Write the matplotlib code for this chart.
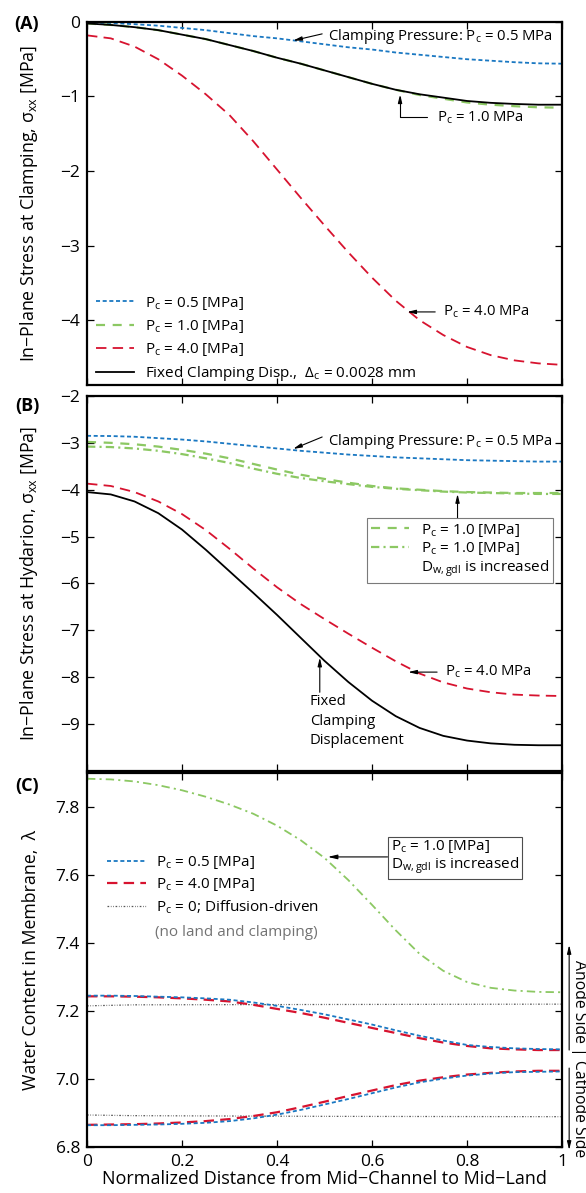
import matplotlib
matplotlib.use("Agg")
import matplotlib.pyplot as plt
from matplotlib.lines import Line2D

plt.rcParams['font.family'] = ['Open Sans', 'DejaVu Sans']
plt.rcParams['mathtext.fontset'] = 'custom'
plt.rcParams['mathtext.rm'] = 'Open Sans'
plt.rcParams['mathtext.it'] = 'Open Sans:italic'
plt.rcParams['lines.scale_dashes'] = False
plt.rcParams['axes.unicode_minus'] = True

# normalized distance from mid-channel to mid-land
x = [0.0, 0.05, 0.1, 0.15, 0.2, 0.25, 0.3, 0.35, 0.4, 0.45, 0.5,
     0.55, 0.6, 0.65, 0.7, 0.75, 0.8, 0.85, 0.9, 0.95, 1.0]

# (A) in-plane stress at clamping [MPa]
a_p05 = [-0.01, -0.015, -0.03, -0.05, -0.08, -0.11, -0.15, -0.19, -0.22, -0.26, -0.30,
         -0.34, -0.37, -0.41, -0.44, -0.47, -0.50, -0.52, -0.54, -0.555, -0.56]
a_p10 = [-0.02, -0.04, -0.07, -0.11, -0.17, -0.23, -0.31, -0.39, -0.48, -0.56, -0.65,
         -0.74, -0.83, -0.91, -0.98, -1.03, -1.08, -1.11, -1.13, -1.145, -1.15]
a_p40 = [-0.18, -0.22, -0.33, -0.50, -0.72, -0.97, -1.25, -1.60, -1.98, -2.36, -2.73,
         -3.09, -3.43, -3.74, -4.00, -4.20, -4.36, -4.47, -4.54, -4.58, -4.60]
a_fix = [-0.02, -0.04, -0.07, -0.11, -0.17, -0.23, -0.31, -0.39, -0.48, -0.56, -0.65,
         -0.74, -0.83, -0.91, -0.97, -1.015, -1.06, -1.085, -1.10, -1.11, -1.11]

# (B) in-plane stress at hydration [MPa]
b_p05 = [-2.85, -2.855, -2.87, -2.90, -2.93, -2.97, -3.02, -3.07, -3.12, -3.17, -3.21,
         -3.25, -3.28, -3.31, -3.33, -3.35, -3.37, -3.38, -3.39, -3.40, -3.40]
b_p10 = [-2.98, -3.00, -3.03, -3.08, -3.15, -3.23, -3.33, -3.45, -3.57, -3.68, -3.77,
         -3.85, -3.92, -3.97, -4.00, -4.03, -4.05, -4.06, -4.07, -4.07, -4.07]
b_p10d = [-3.08, -3.09, -3.12, -3.17, -3.24, -3.33, -3.43, -3.55, -3.66, -3.75, -3.82,
          -3.88, -3.94, -3.98, -4.01, -4.04, -4.06, -4.07, -4.08, -4.09, -4.09]
b_p40 = [-3.87, -3.92, -4.05, -4.25, -4.52, -4.86, -5.26, -5.68, -6.08, -6.44, -6.76,
         -7.07, -7.37, -7.66, -7.92, -8.11, -8.24, -8.32, -8.37, -8.39, -8.40]
b_fix = [-4.05, -4.10, -4.25, -4.50, -4.85, -5.28, -5.74, -6.20, -6.67, -7.16, -7.65,
         -8.10, -8.50, -8.83, -9.08, -9.25, -9.35, -9.41, -9.44, -9.45, -9.45]

# (C) water content in membrane
c_p10d = [7.883, 7.881, 7.875, 7.864, 7.849, 7.83, 7.807, 7.78, 7.745, 7.702, 7.65,
          7.585, 7.512, 7.437, 7.368, 7.318, 7.285, 7.268, 7.26, 7.256, 7.255]
c_p05_an = [7.245, 7.245, 7.244, 7.242, 7.240, 7.237, 7.233, 7.225, 7.215, 7.203, 7.19,
            7.175, 7.16, 7.143, 7.127, 7.113, 7.10, 7.094, 7.09, 7.088, 7.087]
c_p40_an = [7.243, 7.243, 7.242, 7.240, 7.237, 7.233, 7.228, 7.218, 7.206, 7.194, 7.18,
            7.165, 7.15, 7.135, 7.12, 7.107, 7.097, 7.09, 7.087, 7.085, 7.085]
c_p05_ca = [6.864, 6.864, 6.865, 6.866, 6.868, 6.871, 6.876, 6.884, 6.895, 6.909, 6.925,
            6.941, 6.958, 6.975, 6.99, 7.001, 7.01, 7.016, 7.02, 7.021, 7.022]
c_p40_ca = [6.865, 6.866, 6.867, 6.869, 6.872, 6.876, 6.882, 6.891, 6.902, 6.917, 6.933,
            6.95, 6.966, 6.982, 6.995, 7.005, 7.013, 7.018, 7.022, 7.024, 7.024]
x_diff = [0.0, 0.1, 0.5, 1.0]
c_p0_an = [7.215, 7.218, 7.219, 7.22]
c_p0_ca = [6.894, 6.892, 6.890, 6.889]

BLUE = '#1a78c2'
GREEN = '#8cc863'
RED = '#d7132f'
GRAY = '#555555'
D_BLUE = (2.9, 1.9)
D_GREEN = (6.5, 5.5)
D_RED = (7.5, 4.5)
D_DASHDOT = (6, 3, 1.5, 3)
D_DIFF = (1.2, 1.2, 0.5, 1.2, 0.5, 1.2)

PC = r'P$_\mathregular{c}$'
DW = r'D$_\mathregular{w,gdl}$'

fig = plt.figure(figsize=(5.86, 11.93), dpi=100)
axA = fig.add_axes([0.1485, 0.6773, 0.8106, 0.3043])
axB = fig.add_axes([0.1485, 0.3537, 0.8106, 0.3144])
axC = fig.add_axes([0.1485, 0.0386, 0.8106, 0.3135])

for ax in (axA, axB, axC):
    ax.set_xlim(0, 1)
    ax.set_xticks([0, 0.2, 0.4, 0.6, 0.8, 1.0])
    ax.tick_params(direction='in', top=True, right=True, length=5, width=0.9,
                   labelsize=12.5, pad=5)
    for s in ax.spines.values():
        s.set_linewidth(1.6)
    ax.yaxis.set_label_coords(-0.10, 0.5)
axA.tick_params(labelbottom=False)
axB.tick_params(labelbottom=False)

ARW = dict(arrowstyle='-|>,head_length=0.5,head_width=0.12', color='k', lw=0.8,
           shrinkA=0, shrinkB=0)
FS = 10.7
LFS = 11
YFS = 12.8

# ---- (A)
axA.plot(x, a_p05, color=BLUE, lw=1.3, dashes=D_BLUE, label=PC + ' = 0.5 [MPa]')
axA.plot(x, a_p10, color=GREEN, lw=1.6, dashes=D_GREEN, label=PC + ' = 1.0 [MPa]')
axA.plot(x, a_p40, color=RED, lw=1.3, dashes=D_RED, label=PC + ' = 4.0 [MPa]')
axA.plot(x, a_fix, color='k', lw=1.3,
         label='Fixed Clamping Disp.,  Δ$_\\mathregular{c}$ = 0.0028 mm')
axA.set_ylim(-4.87, 0)
axA.set_yticks([0, -1, -2, -3, -4])
axA.set_ylabel('In−Plane Stress at Clamping, σ$_\\mathregular{xx}$ [MPa]', fontsize=YFS)
axA.legend(loc='lower left', bbox_to_anchor=(0.0, -0.02), frameon=False, fontsize=LFS,
           handlelength=2.5, handletextpad=0.7, labelspacing=0.4, borderaxespad=0.2)
axA.text(0.507, -0.20, 'Clamping Pressure: ' + PC + ' = 0.5 MPa', fontsize=FS, va='center')
axA.annotate('', xy=(0.434, -0.25), xytext=(0.495, -0.16), arrowprops=ARW)
axA.text(0.737, -1.29, PC + ' = 1.0 MPa', fontsize=FS, va='center')
axA.annotate('', xy=(0.659, -0.97), xytext=(0.716, -1.275),
             arrowprops=dict(ARW, connectionstyle='angle,angleA=0,angleB=90,rad=0'))
axA.text(0.749, -3.89, PC + ' = 4.0 MPa', fontsize=FS, va='center')
axA.annotate('', xy=(0.674, -3.89), xytext=(0.733, -3.89), arrowprops=ARW)

# ---- (B)
axB.plot(x, b_p05, color=BLUE, lw=1.3, dashes=D_BLUE)
lg1, = axB.plot(x, b_p10, color=GREEN, lw=1.6, dashes=D_GREEN)
lg2, = axB.plot(x, b_p10d, color=GREEN, lw=1.6, dashes=D_DASHDOT)
axB.plot(x, b_p40, color=RED, lw=1.3, dashes=D_RED)
axB.plot(x, b_fix, color='k', lw=1.3)
axB.set_ylim(-10, -2)
axB.set_yticks([-9, -8, -7, -6, -5, -4, -3, -2])
axB.set_ylabel('In−Plane Stress at Hydarion, σ$_\\mathregular{xx}$ [MPa]', fontsize=YFS)
blank = Line2D([], [], color='none')
legB = axB.legend([lg1, lg2, blank], [PC + ' = 1.0 [MPa]', PC + ' = 1.0 [MPa]',
                                      DW + ' is increased'],
                  loc='upper right', bbox_to_anchor=(0.981, 0.675), borderaxespad=0,
                  fontsize=LFS, handlelength=2.5, handletextpad=0.8, labelspacing=0.1,
                  fancybox=False, edgecolor='0.35', borderpad=0.25)
legB.get_frame().set_linewidth(0.8)
axB.annotate('', xy=(0.78, -4.09), xytext=(0.78, -4.60), arrowprops=ARW)
axB.text(0.507, -2.98, 'Clamping Pressure: ' + PC + ' = 0.5 MPa', fontsize=FS, va='center')
axB.annotate('', xy=(0.434, -3.13), xytext=(0.495, -2.875), arrowprops=ARW)
axB.text(0.754, -7.89, PC + ' = 4.0 MPa', fontsize=FS, va='center')
axB.annotate('', xy=(0.676, -7.89), xytext=(0.737, -7.89), arrowprops=ARW)
axB.text(0.469, -8.36, 'Fixed\nClamping\nDisplacement', fontsize=FS, va='top',
         linespacing=1.4)
axB.annotate('', xy=(0.49, -7.58), xytext=(0.49, -8.32), arrowprops=ARW)

# ---- (C)
axC.plot(x, c_p10d, color=GREEN, lw=1.3, dashes=D_DASHDOT)
axC.plot(x_diff, c_p0_an, color=GRAY, lw=0.9, dashes=D_DIFF)
axC.plot(x_diff, c_p0_ca, color=GRAY, lw=0.9, dashes=D_DIFF)
axC.plot(x, c_p40_an, color=RED, lw=1.6, dashes=D_RED)
axC.plot(x, c_p40_ca, color=RED, lw=1.6, dashes=D_RED)
hb, = axC.plot(x, c_p05_an, color=BLUE, lw=1.3, dashes=D_BLUE)
axC.plot(x, c_p05_ca, color=BLUE, lw=1.3, dashes=D_BLUE)
hr = Line2D([], [], color=RED, lw=1.6, dashes=D_RED)
hg = Line2D([], [], color=GRAY, lw=0.9, dashes=D_DIFF)
axC.set_ylim(6.8, 7.9)
axC.set_yticks([6.8, 7.0, 7.2, 7.4, 7.6, 7.8])
axC.set_yticklabels(['6.8', '7.0', '7.2', '7.4', '7.6', '7.8'])
axC.set_xticklabels(['0', '0.2', '0.4', '0.6', '0.8', '1'])
axC.set_ylabel('Water Content in Membrane,  λ', fontsize=YFS)
axC.set_xlabel('Normalized Distance from Mid−Channel to Mid−Land', fontsize=13, labelpad=0)
axC.legend([hb, hr, hg], [PC + ' = 0.5 [MPa]', PC + ' = 4.0 [MPa]',
                          PC + ' = 0; Diffusion-driven'],
           loc='upper left', bbox_to_anchor=(0.03, 0.80), frameon=False, fontsize=LFS,
           handlelength=2.5, handletextpad=0.7, labelspacing=0.35, borderaxespad=0)
axC.text(0.143, 7.432, '(no land and clamping)', fontsize=LFS, color='0.45', va='center')
axC.annotate(PC + ' = 1.0 [MPa]\n' + DW + ' is increased', xy=(0.507, 7.653),
             xytext=(0.64, 7.653), fontsize=LFS, ha='left', va='center', linespacing=1.05,
             bbox=dict(boxstyle='square,pad=0.2', fc='w', ec='0.3', lw=0.8),
             arrowprops=ARW)
side = ('axes fraction', 'data')
axC.annotate('', xy=(1.015, 7.394), xytext=(1.015, 7.085), xycoords=side,
             textcoords=side, annotation_clip=False, arrowprops=ARW)
axC.annotate('', xy=(1.015, 6.791), xytext=(1.015, 7.032), xycoords=side,
             textcoords=side, annotation_clip=False, arrowprops=ARW)
axC.text(1.035, 7.06, 'Anode Side | Cathode Side', transform=axC.get_yaxis_transform(),
         rotation=270, ha='center', va='center', fontsize=11.3, clip_on=False)

# panel tags
for tag, yp in (('(A)', 24), ('(B)', 406), ('(C)', 786)):
    fig.text(27 / 586, 1 - yp / 1193, tag, fontsize=13, fontweight='bold',
             ha='center', va='center')

fig.savefig('out.png', dpi=100)
